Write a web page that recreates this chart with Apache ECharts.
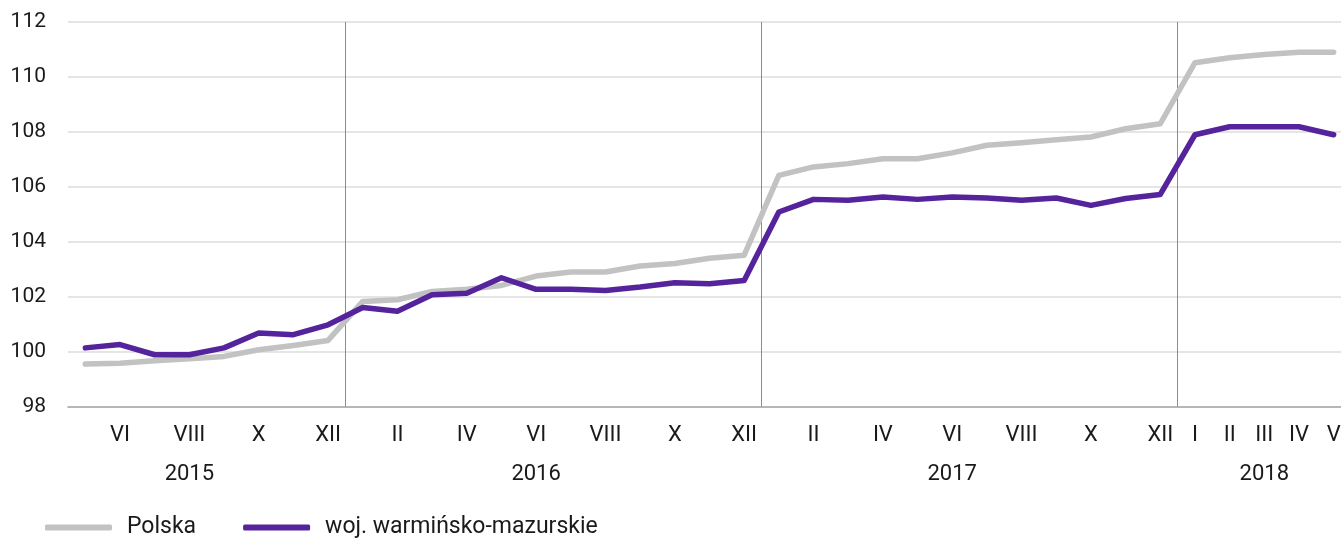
<!DOCTYPE html>
<html>
<head>
<meta charset="utf-8">
<script src="https://cdn.jsdelivr.net/npm/echarts@6/dist/echarts.min.js"></script>
<style>
  html, body { margin: 0; padding: 0; background: #fff; }
  #main { width: 1341px; height: 540px; }
</style>
</head>
<body>
<div id="main"></div>
<script>
// miesiące: V 2015 - V 2018
var months = ['V','VI','VII','VIII','IX','X','XI','XII',
  'I','II','III','IV','V','VI','VII','VIII','IX','X','XI','XII',
  'I','II','III','IV','V','VI','VII','VIII','IX','X','XI','XII',
  'I','II','III','IV','V'];
var monthTicks = ['','VI','','VIII','','X','','XII',
  '','II','','IV','','VI','','VIII','','X','','XII',
  '','II','','IV','','VI','','VIII','','X','','XII',
  'I','II','III','IV','V'];
var yearTicks = ['','','','2015','','','','',
  '','','','','','2016','','','','','','',
  '','','','','','2017','','','','','','',
  '','','2018','',''];
var yearBreaks = [8, 20, 32];
var yTicks = [98, 112, 2];

var polska = [99.56, 99.59, 99.68, 99.75, 99.84, 100.08, 100.24, 100.42,
  101.84, 101.9, 102.2, 102.28, 102.42, 102.76, 102.91, 102.91, 103.13, 103.22, 103.41, 103.52,
  106.42, 106.73, 106.85, 107.03, 107.03, 107.24, 107.52, 107.61, 107.72, 107.82, 108.12, 108.3,
  110.52, 110.7, 110.82, 110.9, 110.9];
var warmMaz = [100.15, 100.27, 99.9, 99.9, 100.15, 100.69, 100.63, 100.99,
  101.62, 101.48, 102.08, 102.14, 102.7, 102.28, 102.28, 102.24, 102.36, 102.52, 102.48, 102.6,
  105.09, 105.55, 105.52, 105.64, 105.55, 105.64, 105.6, 105.52, 105.6, 105.33, 105.58, 105.73,
  107.9, 108.19, 108.19, 108.19, 107.9];

var font = 'Roboto';
var isBreak = function (idx) { return yearBreaks.indexOf(idx) >= 0; };

var myChart = echarts.init(document.getElementById('main'));
myChart.setOption({
  animation: false,
  textStyle: { fontFamily: font },
  grid: { left: 68, top: 22, width: 1283, height: 385, outerBoundsMode: 'none', containLabel: false },
  legend: {
    left: 40,
    top: 511,
    itemWidth: 67,
    itemHeight: 6,
    itemGap: 47,
    icon: 'roundRect',
    textStyle: { fontSize: 23, color: '#1a1a1a', fontFamily: font, padding: [0, 0, 0, 10] },
    data: ['Polska', 'woj. warmińsko-mazurskie']
  },
  xAxis: [
    {
      type: 'category',
      data: months,
      boundaryGap: true,
      axisLine: { lineStyle: { color: '#a6a6a6', width: 1.5 } },
      axisTick: { interval: 0, length: 5, lineStyle: { color: '#a6a6a6', width: 1.5 } },
      axisLabel: {
        interval: 0,
        margin: 17,
        fontSize: 22,
        color: '#1a1a1a',
        formatter: function (v, i) { return monthTicks[i]; }
      },
      splitLine: { show: false }
    },
    {
      type: 'category',
      data: months,
      position: 'bottom',
      boundaryGap: true,
      axisLine: { show: false },
      axisTick: {
        interval: isBreak,
        length: 96,
        lineStyle: { color: '#8c8c8c', width: 1 }
      },
      axisLabel: {
        interval: 0,
        margin: 56,
        fontSize: 22,
        color: '#1a1a1a',
        formatter: function (v, i) { return yearTicks[i]; }
      },
      splitLine: {
        show: true,
        interval: isBreak,
        lineStyle: { color: '#8c8c8c', width: 1 }
      }
    }
  ],
  yAxis: {
    type: 'value',
    min: yTicks[0],
    max: yTicks[1],
    interval: yTicks[2],
    axisLine: { show: false },
    axisTick: { show: false },
    axisLabel: { margin: 22, fontSize: 21, color: '#1a1a1a' },
    splitLine: { lineStyle: { color: '#dcdcdc', width: 1.5 } }
  },
  series: [
    {
      name: 'Polska',
      type: 'line',
      data: polska,
      symbol: 'none',
      color: '#c2c2c2',
      lineStyle: { width: 5.5, color: '#c2c2c2', cap: 'round', join: 'round' }
    },
    {
      name: 'woj. warmińsko-mazurskie',
      type: 'line',
      data: warmMaz,
      symbol: 'none',
      color: '#55249c',
      lineStyle: { width: 5.5, color: '#55249c', cap: 'round', join: 'round' }
    }
  ]
});
</script>
</body>
</html>
